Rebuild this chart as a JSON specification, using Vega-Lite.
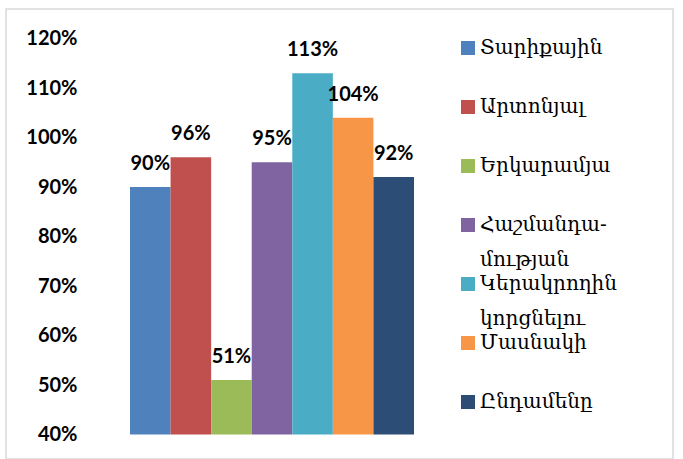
{
  "$schema": "https://vega.github.io/schema/vega-lite/v6.json",
  "width": 667,
  "height": 450,
  "autosize": {"type": "none"},
  "padding": {"left": 6, "top": 9, "right": 10, "bottom": 0},
  "background": "white",
  "config": {
    "view": {"stroke": "#d9d9d9", "strokeWidth": 1.5},
    "style": {"guide-label": {"lineHeight": 35}}
  },
  "data": {
    "values": [
      {"cat": "Տարիքային", "value": 0.90},
      {"cat": "Արտոնյալ", "value": 0.96},
      {"cat": "Երկարամյա", "value": 0.51},
      {"cat": "Հաշմանդա-|մության", "value": 0.95},
      {"cat": "Կերակրողին|կորցնելու", "value": 1.13},
      {"cat": "Մասնակի", "value": 1.04},
      {"cat": "Ընդամենը", "value": 0.92}
    ]
  },
  "encoding": {
    "x": {
      "field": "cat",
      "type": "nominal",
      "sort": null,
      "scale": {"range": [124, 408], "paddingInner": 0, "paddingOuter": 0},
      "axis": null
    },
    "y": {
      "field": "value",
      "type": "quantitative",
      "scale": {"domain": [0.4, 1.2], "range": [425.5, 29.5], "nice": false, "zero": false},
      "axis": {
        "title": null,
        "values": [0.4, 0.5, 0.6, 0.7, 0.8, 0.9, 1.0, 1.1, 1.2],
        "format": ".0%",
        "domain": false,
        "grid": false,
        "ticks": false,
        "tickSize": 0,
        "labelPadding": 0,
        "offset": -71,
        "labelFont": "Lato",
        "labelFontWeight": "bold",
        "labelFontSize": 20,
        "labelColor": "#000000"
      }
    }
  },
  "layer": [
    {
      "mark": {"type": "bar"},
      "encoding": {
        "y2": {"datum": 0.4},
        "color": {
          "field": "cat",
          "type": "nominal",
          "sort": null,
          "scale": {"range": ["#4F81BD", "#C0504D", "#9BBB59", "#8064A2", "#4BACC6", "#F79646", "#2C4D75"]},
          "legend": {
            "title": null,
            "orient": "none",
            "legendX": 452,
            "legendY": 29,
            "padding": 0,
            "rowPadding": 4,
            "symbolType": "square",
            "symbolSize": 196,
            "symbolStrokeWidth": 0,
            "labelFont": "DejaVu Serif",
            "labelFontSize": 20,
            "labelColor": "#000000",
            "labelOffset": 2,
            "labelLimit": 300,
            "labelBaseline": "middle",
            "labelExpr": "split(indexof(datum.label, '|') >= 0 ? datum.label : datum.label + '|', '|')"
          }
        }
      }
    },
    {
      "mark": {
        "type": "text",
        "baseline": "alphabetic",
        "dy": -17,
        "font": "Lato",
        "fontWeight": "bold",
        "fontSize": 20,
        "color": "#000000"
      },
      "encoding": {
        "text": {"field": "value", "type": "quantitative", "format": ".0%"}
      }
    }
  ]
}
